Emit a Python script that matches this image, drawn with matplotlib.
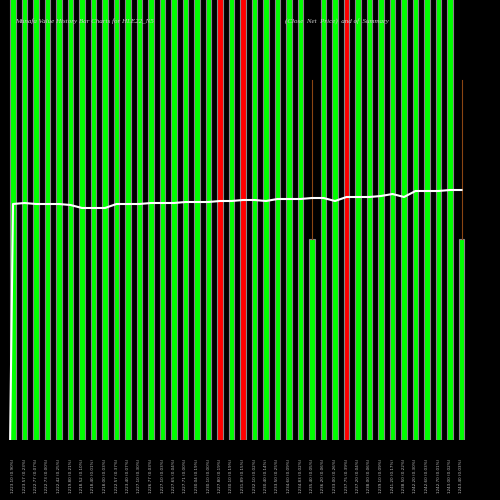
import matplotlib
matplotlib.use("Agg")
import matplotlib.pyplot as plt

line_px = [204,203,204,204,204,205,208,208,208,204,204,204,203,203,203,202,202,202,201,201,
           200,200,201,199,199,199,198,198,201,197,197,197,196,194,197,191,191,191,190,190]
colors_key = ['g']*40
for i in (18, 20, 29):
    colors_key[i] = 'r'
short = {26: 201, 39: 201}
prices = [1223.10,1223.57,1222.77,1222.73,1222.42,1219.80,1218.52,1218.40,1218.00,1222.57,
          1223.40,1227.10,1226.77,1227.10,1227.65,1227.71,1230.04,1230.10,1227.80,1230.10,
          1231.89,1232.10,1230.40,1233.50,1234.60,1234.83,1235.40,1236.20,1233.00,1237.75,
          1237.20,1238.00,1239.10,1241.20,1238.50,1242.20,1242.60,1242.70,1243.00,1243.40]
pcts = [0.90,0.23,0.07,0.00,0.25,0.21,0.10,0.01,0.03,0.37,0.07,0.30,0.03,0.03,0.04,0.00,
        0.19,0.00,0.19,0.19,0.15,0.02,0.14,0.25,0.09,0.02,0.05,0.06,0.26,0.39,0.04,0.06,
        0.09,0.17,0.22,0.30,0.03,0.01,0.02,0.03]

n = len(line_px)
fig = plt.figure(figsize=(5, 5), dpi=100, facecolor='black')
ax = fig.add_axes([0, 0.12, 1, 0.88])
ax.set_facecolor('black')
step = 11.5
x0 = 13
ax.set_xlim(-x0/step, (500-x0)/step)
ax.set_ylim(0, 440)
xs = list(range(n))
for i in xs:
    h = short.get(i, 500)
    c = '#00ff00' if colors_key[i] == 'g' else '#ff0000'
    ax.bar(i, h, width=0.5, color=c, edgecolor='#888888', linewidth=0.8)
    if i in short:
        ax.plot([i, i], [h, 360], color='#8B4513', lw=0.8)
ax.plot([-0.25] + xs, [0] + [440 - v for v in line_px], color='white', lw=1.5)
ax.axis('off')
for i in xs:
    fig.text((x0 + step*i)/500, 0.014, f"{prices[i]:.2f} ({pcts[i]:.2f}%)", rotation=90,
             ha='center', va='bottom', fontsize=3.0, color='#bbbbbb')
fig.text(0.03, 0.955, "Munafa Value History Bar Charts for HLE22_N5", fontsize=5,
         color='#cccccc', style='italic', family='Liberation Serif')
fig.text(0.57, 0.955, "(Close  Net  Price)  and of  Summary", fontsize=5,
         color='#cccccc', style='italic', family='Liberation Serif')
fig.savefig('out.png', facecolor='black')
